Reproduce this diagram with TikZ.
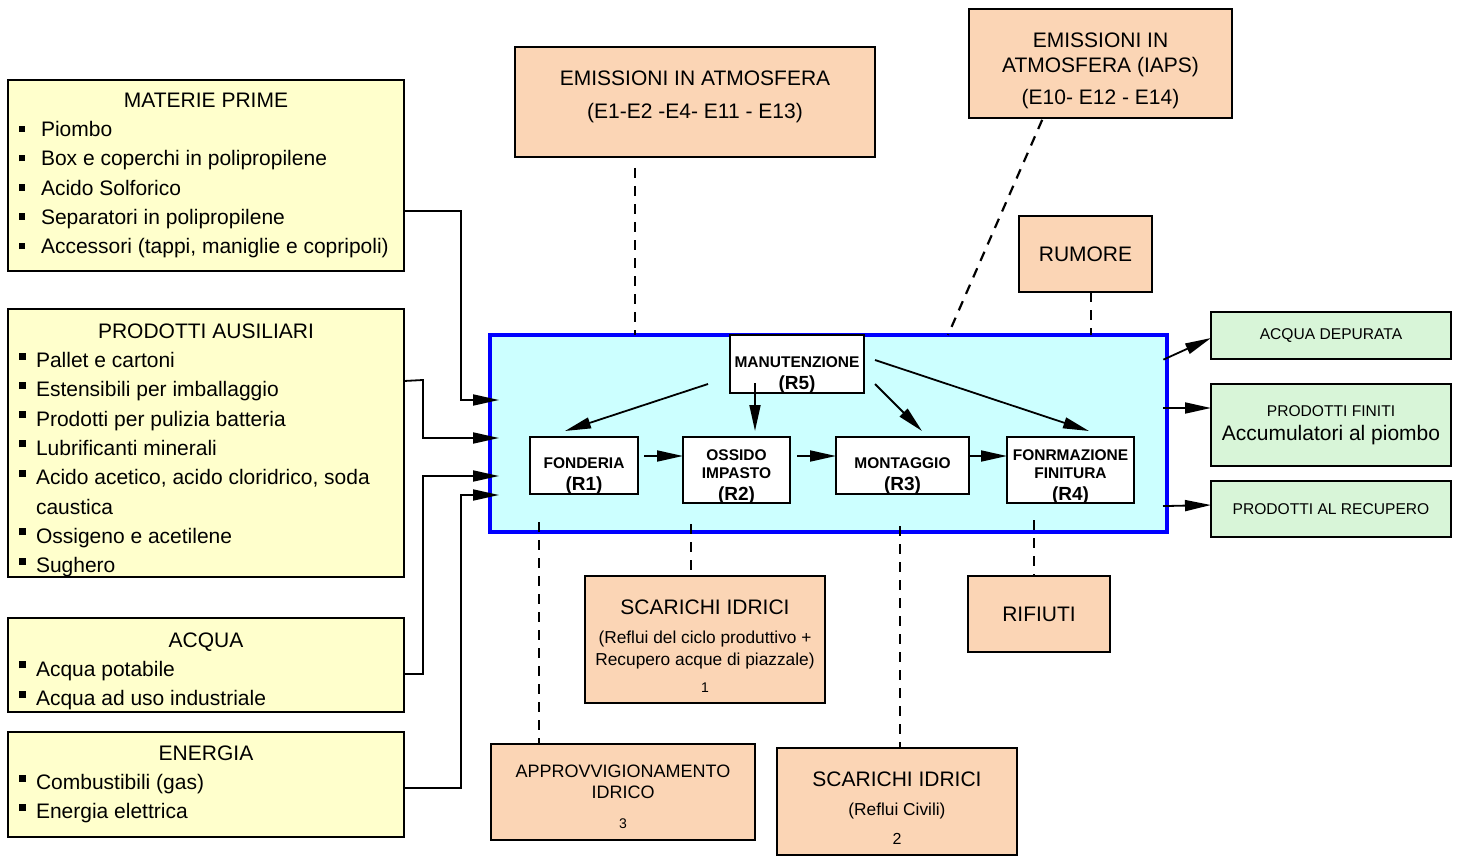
\documentclass[tikz,border=0pt]{standalone}
\usepackage{fontspec}
\setmainfont{Liberation Sans}
\usetikzlibrary{arrows.meta}

\definecolor{ylw}{HTML}{FFFFCC}
\definecolor{peach}{HTML}{FBD5B5}
\definecolor{mint}{HTML}{D8F5D8}
\definecolor{cyanfill}{HTML}{CCFFFF}

% bullets and titles of the input lists
\newcommand{\sqa}{\makebox[11pt][l]{\raisebox{2.3pt}{\rule{3.2pt}{3.2pt}}}}
\newcommand{\sqb}{\makebox[8.5pt][l]{\raisebox{4pt}{\rule{3.5pt}{3.5pt}}}}
\newcommand{\ttl}[2][0pt]{\makebox[187pt]{\rule{0pt}{#1}#2}}
\newcommand{\rfont}{\fontsize{9.5}{10}\selectfont}

\begin{document}
\begin{tikzpicture}[x=0.5pt,y=-0.5pt,
  inbox/.style={draw,line width=0.9pt,fill=ylw,anchor=north west,minimum width=198pt,
    inner xsep=5.5pt,inner ysep=0pt,outer sep=0pt,align=left,
    font=\fontsize{10.5}{14.65}\selectfont},
  obox/.style={draw,line width=0.9pt,fill=peach,anchor=north west,inner sep=0pt,
    outer sep=0pt,align=center,font=\fontsize{10.5}{12}\selectfont},
  otxt/.style={inner sep=0pt,align=center,font=\fontsize{10.5}{12}\selectfont},
  gbox/.style={draw,line width=0.9pt,fill=mint,anchor=north west,minimum width=120pt,
    inner sep=0pt,outer sep=0pt,align=center,font=\fontsize{7.8}{9.4}\selectfont},
  proc/.style={draw,line width=0.9pt,fill=white,inner sep=0pt,outer sep=0pt},
  ptxt/.style={inner sep=0pt,align=center,font=\bfseries\fontsize{7.75}{9}\selectfont},
  arr/.style={line width=0.9pt,-{Triangle[length=13pt,width=5.5pt]}},
  dline/.style={line width=1.1pt,dash pattern=on 5pt off 4pt},
]
\useasboundingbox (0,0) rectangle (1457,856);

% input boxes
\node[inbox,minimum height=95.5pt] (mp) at (8,80) {\ttl{MATERIE PRIME}\\
  \sqa Piombo\\ \sqa Box e coperchi in polipropilene\\ \sqa Acido Solforico\\
  \sqa Separatori in polipropilene\\ \sqa Accessori (tappi, maniglie e copripoli)};
\node[inbox,minimum height=133.5pt] (pa) at (8,309) {\ttl[14.6pt]{PRODOTTI AUSILIARI}\\
  \sqb Pallet e cartoni\\ \sqb Estensibili per imballaggio\\
  \sqb Prodotti per pulizia batteria\\ \sqb Lubrificanti minerali\\
  \sqb Acido acetico, acido cloridrico, soda\\ \hspace*{8.5pt}caustica\\
  \sqb Ossigeno e acetilene\\ \sqb Sughero};
\node[inbox,minimum height=47pt] (ac) at (8,618) {\ttl[13.6pt]{ACQUA}\\
  \sqb Acqua potabile\\ \sqb Acqua ad uso industriale};
\node[inbox,minimum height=52.5pt] (en) at (8,732) {\ttl{ENERGIA}\\
  \sqb Combustibili (gas)\\ \sqb Energia elettrica};

% environmental aspects
\node[obox,minimum width=180pt,minimum height=55pt] (emis1) at (515,47) {};
\node[otxt] (emis1txt) at ([yshift=2.6pt]emis1.center)
  {EMISSIONI IN ATMOSFERA\\[4.5pt](E1-E2 -E4- E11 - E13)};
\node[obox,minimum width=131.5pt,minimum height=54.5pt] (iaps) at (969,9) {};
\node[otxt] (iapstxt) at ([yshift=-3.6pt]iaps.center)
  {EMISSIONI IN\\[0.5pt]ATMOSFERA (IAPS)\\[4pt](E10- E12 - E14)};
\node[obox,minimum width=66.5pt,minimum height=38pt] (rum) at (1019,216) {RUMORE};
\node[obox,minimum width=71pt,minimum height=38pt] (rif) at (968,576) {RIFIUTI};
\node[obox,minimum width=120pt,minimum height=63.5pt] (scar1) at (585,576) {};
\node[otxt] (scar1txt) at ([yshift=-3.4pt]scar1.center) {SCARICHI IDRICI\\[2.75pt]
  {\fontsize{8.65}{10}\selectfont (Reflui del ciclo produttivo +}\\[-1pt]
  {\fontsize{8.65}{10}\selectfont Recupero acque di piazzale)}\\[1.5pt]
  {\fontsize{7}{8}\selectfont 1}};
\node[obox,minimum width=132pt,minimum height=48pt] (appr) at (491,744) {};
\node[otxt,font=\fontsize{9}{10.5}\selectfont] (apprtxt) at ([yshift=-2.2pt]appr.center)
  {APPROVVIGIONAMENTO\\IDRICO\\[4.5pt]{\fontsize{7}{8}\selectfont 3}};
\node[obox,minimum width=120pt,minimum height=53.5pt] (scar2) at (777,748) {};
\node[otxt] (scar2txt) at ([yshift=-3.4pt]scar2.center) {SCARICHI IDRICI\\[2.75pt]
  {\fontsize{8.65}{10}\selectfont (Reflui Civili)}\\[2.5pt]
  {\fontsize{8}{9}\selectfont 2}};

% output boxes
\node[gbox,minimum height=23.5pt] (adep) at (1211,312) {ACQUA DEPURATA};
\node[gbox,minimum height=41pt,font=\fontsize{7.8}{11.75}\selectfont] (pfin) at (1211,384)
  {PRODOTTI FINITI\\{\fontsize{10.5}{12}\selectfont Accumulatori al piombo}};
\node[gbox,minimum height=28pt] (prec) at (1211,481) {PRODOTTI AL RECUPERO};

% plant box and process steps
\node[draw=blue,line width=2pt,fill=cyanfill,minimum width=338.5pt,minimum height=98.5pt,
  inner sep=0pt,outer sep=0pt] (main) at (828.5,433.5) {};
\node[proc,minimum width=67pt,minimum height=29pt] (man) at (797,364) {};
\node[ptxt] (mantxt) at ([yshift=-5.5pt]man.center) {MANUTENZIONE\\[2pt]{\rfont (R5)}};
\node[proc,minimum width=54pt,minimum height=28.5pt] (fond) at (584,465.5) {};
\node[ptxt] (fondtxt) at ([yshift=-5.25pt]fond.center) {FONDERIA\\[2pt]{\rfont (R1)}};
\node[proc,minimum width=53.5pt,minimum height=33pt] (ossi) at (736.5,470) {};
\node[ptxt] (ossitxt) at ([yshift=-3.5pt]ossi.center) {OSSIDO\\IMPASTO\\[2pt]{\rfont (R2)}};
\node[proc,minimum width=66.5pt,minimum height=28.5pt] (mont) at (902.5,465.5) {};
\node[ptxt] (monttxt) at ([yshift=-5.25pt]mont.center) {MONTAGGIO\\[2pt]{\rfont (R3)}};
\node[proc,minimum width=63.5pt,minimum height=33pt] (fonr) at (1070.5,470) {};
\node[ptxt] (fonrtxt) at ([yshift=-3.5pt]fonr.center) {FONRMAZIONE\\FINITURA\\[2pt]{\rfont (R4)}};

% flows inside the plant
\draw[arr] ([shift={(-11pt,4.5pt)}]man.south west) -- ([shift={(-9.5pt,3pt)}]fond.north);
\draw[arr] ([shift={(-21pt,5pt)}]man.south) -- ([shift={(9.25pt,3pt)}]ossi.north);
\draw[arr] ([shift={(5.5pt,4.5pt)}]man.south east) -- ([shift={(9.75pt,3pt)}]mont.north);
\draw[arr] ([shift={(5.5pt,2pt)}]man.east) -- ([shift={(9.25pt,3pt)}]fonr.north);
\draw[arr] ([shift={(3pt,4.75pt)}]fond.east) -- ([yshift=7pt]ossi.west);
\draw[arr] ([shift={(3.5pt,7pt)}]ossi.east) -- ([yshift=4.75pt]mont.west);
\draw[arr] ([yshift=4.75pt]mont.east) -- ([yshift=7pt]fonr.west);

% inputs
\draw[arr,shorten >=-4.5pt] (mp.east |- 0,211) -- (461,211) -- (461,400) -- (main.west |- 0,400);
\draw[arr,shorten >=-4.5pt] (pa.east |- 0,381) -- (423,380) -- (423,438) -- (main.west |- 0,438);
\draw[arr,shorten >=-4.5pt] (ac.east |- 0,674) -- (423,674) -- (423,476) -- (main.west |- 0,476);
\draw[arr,shorten >=-4.5pt] (en.east |- 0,788) -- (461,788) -- (461,495) -- (main.west |- 0,495);

% outputs
\draw[arr,shorten <=-2pt] (main.east |- 0,358) -- (adep.west |- 0,338);
\draw[arr,shorten <=-2pt] (main.east |- 0,408) -- (pfin.west |- 0,408);
\draw[arr,shorten <=-2pt] (main.east |- 0,506) -- (prec.west |- 0,505);

% dashed links
\draw[dline,shorten <=5.5pt] (emis1.south -| 635,0) -- (main.north -| 635,0);
\draw[dline,shorten <=1pt] (iaps.south -| 1043,0) -- (main.north -| 948,0);
\draw[dline] (rum.south -| 1091,0) -- (main.north -| 1091,0);
\draw[dline,shorten <=-5pt] (main.south -| 539,0) -- (appr.north -| 539,0);
\draw[dline,shorten <=-4pt] (main.south -| 691,0) -- (scar1.north -| 691,0);
\draw[dline,shorten <=-3pt] (main.south -| 900,0) -- (scar2.north -| 900,0);
\draw[dline,shorten <=-6pt] (main.south -| 1034,0) -- (rif.north -| 1034,0);
\end{tikzpicture}
\end{document}
